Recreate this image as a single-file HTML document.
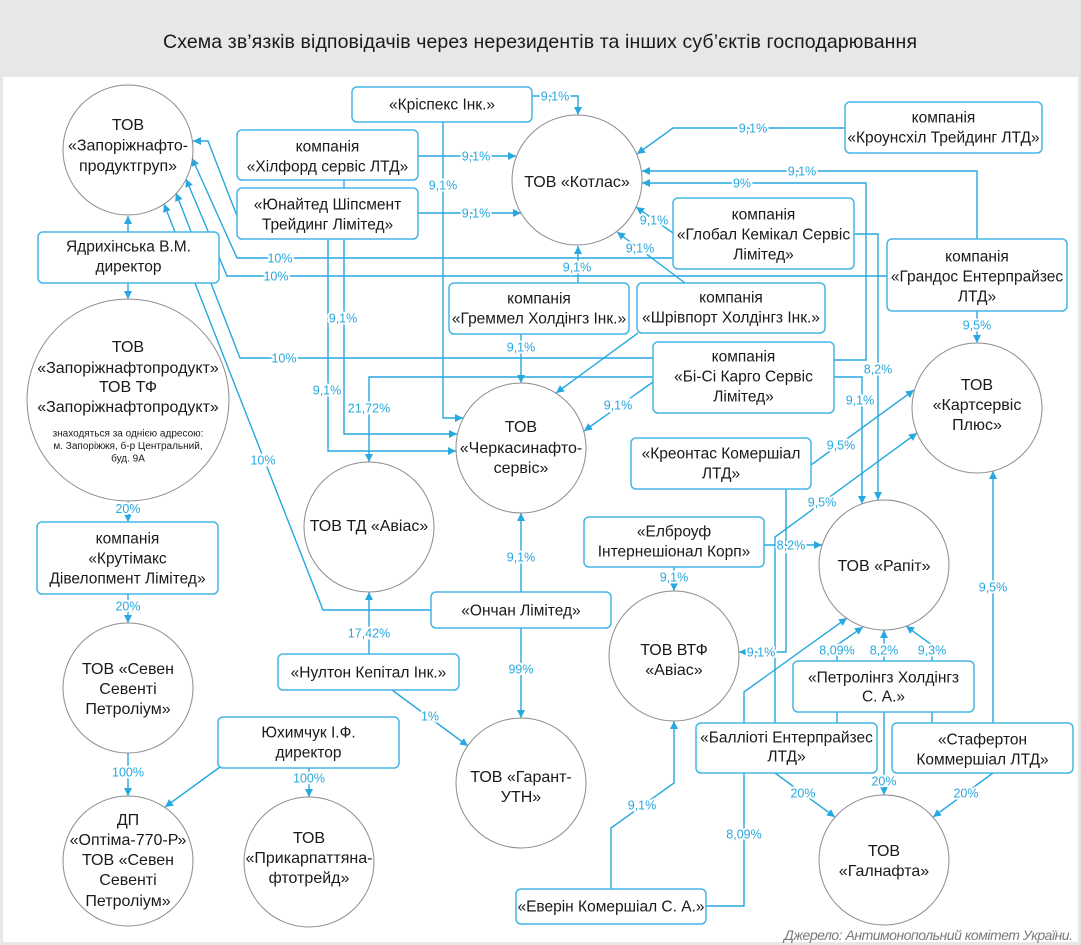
<!DOCTYPE html>
<html>
<head>
<meta charset="utf-8">
<style>
html,body{margin:0;padding:0;background:#e6e7e9;}
svg{display:block;}
.t{font-family:"Liberation Sans","DejaVu Sans",sans-serif;fill:#1a1a1a;text-anchor:middle;}
.c{font-size:16px;}
.b{font-size:15.5px;}
.s{font-size:10px;}
.l{font-family:"Liberation Sans","DejaVu Sans",sans-serif;font-size:12.5px;fill:#27a8de;text-anchor:middle;stroke:#fff;stroke-width:4px;paint-order:stroke;stroke-linejoin:round;}
.ln path{fill:none;stroke:#27a8de;stroke-width:1.4;marker-end:url(#a);}
.ln path.n{marker-end:none;}
.bx rect{fill:#fff;stroke:#45b5e5;stroke-width:1.5;}
.ci circle{fill:#fff;stroke:#8c8c8c;stroke-width:1;}
</style>
</head>
<body>
<svg width="1081" height="945" viewBox="0 0 1081 945" xmlns="http://www.w3.org/2000/svg">
<defs>
<marker id="a" viewBox="0 0 10 10" refX="10" refY="5" markerWidth="8" markerHeight="8" markerUnits="userSpaceOnUse" orient="auto">
<path d="M0,0 L10,5 L0,10 z" fill="#27a8de"/>
</marker>
</defs>
<rect x="0" y="0" width="1081" height="945" fill="#e6e7e9"/>
<rect x="3" y="77" width="1075" height="865" fill="#fff"/>
<text class="t" x="540" y="48" font-size="19.5" textLength="754" fill="#222">Схема зв’язків відповідачів через нерезидентів та інших суб’єктів господарювання</text>

<g class="ln">
<path d="M128,232 V216"/>
<path d="M128,283 V299"/>
<path d="M237,216 L208,141 L193,141"/>
<path d="M673,258 H237 L192,158"/>
<path d="M887,276 H227 L186,179"/>
<path d="M653,358 H240 L176,193"/>
<path d="M431,610 H323 L164,204"/>
<path d="M532,96 H578 V115"/>
<path d="M443,122 V418 H463"/>
<path d="M418,156 H516"/>
<path d="M418,213 H521"/>
<path d="M344,180 V434 H457"/>
<path d="M328,239 V451 H456"/>
<path d="M845,128 H673 L637,154"/>
<path d="M977,239 V171 H642"/>
<path d="M834,360 H866 V183 H642"/>
<path d="M673,233 L636,207"/>
<path d="M685,283 L617,232"/>
<path d="M578,283 V246"/>
<path d="M521,334 V383"/>
<path d="M638,333 L556,393"/>
<path d="M653,382 L584,431"/>
<path d="M653,377 H369 V462"/>
<path d="M521,592 V513"/>
<path d="M521,628 V718"/>
<path d="M369,654 V592"/>
<path d="M392,690 L468,746"/>
<path d="M977,311 V343"/>
<path d="M854,234 H878 V500"/>
<path d="M834,377 H862 V504"/>
<path d="M811,465 L914,390"/>
<path d="M775,723 V537 L917,433"/>
<path d="M786,489 V652 H739"/>
<path d="M764,545 H822"/>
<path d="M674,567 V591"/>
<path d="M993,723 V471"/>
<path d="M706,906 H744 V692 L847,618"/>
<path d="M837,723 V645 L863,627"/>
<path d="M884,661 V630"/>
<path d="M932,723 V645 L906,626"/>
<path d="M884,712 V795"/>
<path d="M775,773 L835,817"/>
<path d="M993,773 L933,817"/>
<path d="M611,889 V828 L674,783 V721"/>
<path d="M128,501 V522"/>
<path d="M128,594 V623"/>
<path d="M128,753 V796"/>
<path d="M220,767 L165,807"/>
<path d="M309,768 V797"/>
</g>

<g class="ci">
<circle cx="128" cy="150" r="65"/>
<circle cx="128" cy="400" r="101"/>
<circle cx="128" cy="688" r="65"/>
<circle cx="128" cy="861" r="65"/>
<circle cx="309" cy="862" r="65"/>
<circle cx="369" cy="527" r="65"/>
<circle cx="521" cy="448" r="65"/>
<circle cx="577" cy="180" r="65"/>
<circle cx="521" cy="783" r="65"/>
<circle cx="674" cy="656" r="65"/>
<circle cx="977" cy="408" r="65"/>
<circle cx="884" cy="565" r="65"/>
<circle cx="884" cy="860" r="65"/>
</g>

<g class="bx">
<rect x="352" y="87" width="180" height="35" rx="5"/>
<rect x="237" y="130" width="181" height="50" rx="5"/>
<rect x="237" y="188" width="181" height="51" rx="5"/>
<rect x="38" y="232" width="181" height="51" rx="5"/>
<rect x="845" y="102" width="197" height="51" rx="5"/>
<rect x="673" y="198" width="181" height="71" rx="5"/>
<rect x="887" y="239" width="180" height="72" rx="5"/>
<rect x="449" y="283" width="180" height="51" rx="5"/>
<rect x="637" y="283" width="188" height="50" rx="5"/>
<rect x="653" y="342" width="181" height="71" rx="5"/>
<rect x="631" y="438" width="180" height="51" rx="5"/>
<rect x="584" y="517" width="180" height="50" rx="5"/>
<rect x="431" y="592" width="180" height="36" rx="5"/>
<rect x="37" y="522" width="181" height="72" rx="5"/>
<rect x="278" y="654" width="181" height="36" rx="5"/>
<rect x="218" y="717" width="181" height="51" rx="5"/>
<rect x="793" y="661" width="181" height="51" rx="5"/>
<rect x="696" y="723" width="181" height="50" rx="5"/>
<rect x="892" y="723" width="181" height="50" rx="5"/>
<rect x="516" y="889" width="190" height="35" rx="5"/>
</g>

<!-- circle texts -->
<text class="t c" x="128" y="130">ТОВ</text>
<text class="t c" x="128" y="150.5">«Запоріжнафто-</text>
<text class="t c" x="128" y="171">продуктгруп»</text>

<text class="t c" x="128" y="352">ТОВ</text>
<text class="t c" x="128" y="373">«Запоріжнафтопродукт»</text>
<text class="t c" x="128" y="392">ТОВ ТФ</text>
<text class="t c" x="128" y="412">«Запоріжнафтопродукт»</text>
<text class="t s" x="128" y="436.5">знаходяться за однією адресою:</text>
<text class="t s" x="128" y="449">м. Запоріжжя, б-р Центральний,</text>
<text class="t s" x="128" y="461.5">буд. 9А</text>

<text class="t c" x="128" y="674">ТОВ «Севен</text>
<text class="t c" x="128" y="694">Севенті</text>
<text class="t c" x="128" y="714">Петроліум»</text>

<text class="t c" x="128" y="825">ДП</text>
<text class="t c" x="128" y="845">«Оптіма-770-Р»</text>
<text class="t c" x="128" y="865">ТОВ «Севен</text>
<text class="t c" x="128" y="885">Севенті</text>
<text class="t c" x="128" y="906">Петроліум»</text>

<text class="t c" x="309" y="843">ТОВ</text>
<text class="t c" x="309" y="863">«Прикарпаттяна-</text>
<text class="t c" x="309" y="883">фтотрейд»</text>

<text class="t c" x="369" y="531">ТОВ ТД «Авіас»</text>

<text class="t c" x="521" y="432">ТОВ</text>
<text class="t c" x="521" y="453">«Черкасинафто-</text>
<text class="t c" x="521" y="473">сервіс»</text>

<text class="t c" x="577" y="187">ТОВ «Котлас»</text>

<text class="t c" x="521" y="782">ТОВ «Гарант-</text>
<text class="t c" x="521" y="802">УТН»</text>

<text class="t c" x="674" y="655">ТОВ ВТФ</text>
<text class="t c" x="674" y="675">«Авіас»</text>

<text class="t c" x="977" y="390">ТОВ</text>
<text class="t c" x="977" y="410">«Картсервіс</text>
<text class="t c" x="977" y="430">Плюс»</text>

<text class="t c" x="884" y="571">ТОВ «Рапіт»</text>

<text class="t c" x="884" y="856">ТОВ</text>
<text class="t c" x="884" y="876">«Галнафта»</text>

<!-- box texts -->
<text class="t b" x="442" y="109.5">«Кріспекс Інк.»</text>
<text class="t b" x="327.5" y="151.5">компанія</text>
<text class="t b" x="327.5" y="171.5">«Хілфорд сервіс ЛТД»</text>
<text class="t b" x="327.5" y="209.5">«Юнайтед Шіпсмент</text>
<text class="t b" x="327.5" y="229.5">Трейдинг Лімітед»</text>
<text class="t b" x="128.5" y="251.5">Ядрихінська В.М.</text>
<text class="t b" x="128.5" y="271.5">директор</text>
<text class="t b" x="943.5" y="122.5">компанія</text>
<text class="t b" x="943.5" y="142.5">«Кроунсхіл Трейдинг ЛТД»</text>
<text class="t b" x="763.5" y="219.5">компанія</text>
<text class="t b" x="763.5" y="239.5">«Глобал Кемікал Сервіс</text>
<text class="t b" x="763.5" y="259.5">Лімітед»</text>
<text class="t b" x="977" y="261.5">компанія</text>
<text class="t b" x="977" y="281.5">«Грандос Ентерпрайзес</text>
<text class="t b" x="977" y="301.5">ЛТД»</text>
<text class="t b" x="539" y="303.5">компанія</text>
<text class="t b" x="539" y="323.5">«Греммел Холдінгз Інк.»</text>
<text class="t b" x="731" y="302.5">компанія</text>
<text class="t b" x="731" y="322.5">«Шрівпорт Холдінгз Інк.»</text>
<text class="t b" x="743.5" y="361.5">компанія</text>
<text class="t b" x="743.5" y="381.5">«Бі-Сі Карго Сервіс</text>
<text class="t b" x="743.5" y="401.5">Лімітед»</text>
<text class="t b" x="721" y="458.5">«Креонтас Комершіал</text>
<text class="t b" x="721" y="478.5">ЛТД»</text>
<text class="t b" x="674" y="536.5">«Елброуф</text>
<text class="t b" x="674" y="556.5">Інтернешіонал Корп»</text>
<text class="t b" x="521" y="615.5">«Ончан Лімітед»</text>
<text class="t b" x="127.5" y="543.5">компанія</text>
<text class="t b" x="127.5" y="563.5">«Крутімакс</text>
<text class="t b" x="127.5" y="583.5">Дівелопмент Лімітед»</text>
<text class="t b" x="368.5" y="677.5">«Нултон Кепітал Інк.»</text>
<text class="t b" x="308.5" y="737.5">Юхимчук І.Ф.</text>
<text class="t b" x="308.5" y="757.5">директор</text>
<text class="t b" x="883.5" y="682.5">«Петролінгз Холдінгз</text>
<text class="t b" x="883.5" y="701.5">С. А.»</text>
<text class="t b" x="786.5" y="742.5">«Балліоті Ентерпрайзес</text>
<text class="t b" x="786.5" y="761.5">ЛТД»</text>
<text class="t b" x="982.5" y="744.5">«Стафертон</text>
<text class="t b" x="982.5" y="764.5">Коммершіал ЛТД»</text>
<text class="t b" x="611" y="911.5">«Еверін Комершіал С. А.»</text>

<!-- labels -->
<text class="l" x="555" y="100.5">9,1%</text>
<text class="l" x="443" y="189.5">9,1%</text>
<text class="l" x="476" y="160.5">9,1%</text>
<text class="l" x="476" y="217.5">9,1%</text>
<text class="l" x="753" y="132.5">9,1%</text>
<text class="l" x="802" y="175.5">9,1%</text>
<text class="l" x="742" y="187.5">9%</text>
<text class="l" x="654" y="224.5">9,1%</text>
<text class="l" x="640" y="252.5">9,1%</text>
<text class="l" x="577" y="271.5">9,1%</text>
<text class="l" x="280" y="262.5">10%</text>
<text class="l" x="276" y="280.5">10%</text>
<text class="l" x="284" y="362.5">10%</text>
<text class="l" x="263" y="464.5">10%</text>
<text class="l" x="343" y="322.5">9,1%</text>
<text class="l" x="327" y="394.5">9,1%</text>
<text class="l" x="369" y="412.5">21,72%</text>
<text class="l" x="521" y="351.5">9,1%</text>
<text class="l" x="618" y="409.5">9,1%</text>
<text class="l" x="977" y="329.5">9,5%</text>
<text class="l" x="878" y="373.5">8,2%</text>
<text class="l" x="860" y="404.5">9,1%</text>
<text class="l" x="841" y="449.5">9,5%</text>
<text class="l" x="822" y="506.5">9,5%</text>
<text class="l" x="521" y="561.5">9,1%</text>
<text class="l" x="369" y="637.5">17,42%</text>
<text class="l" x="521" y="673.5">99%</text>
<text class="l" x="430" y="720.5">1%</text>
<text class="l" x="791" y="549.5">8,2%</text>
<text class="l" x="674" y="581.5">9,1%</text>
<text class="l" x="761" y="656.5">9,1%</text>
<text class="l" x="993" y="591.5">9,5%</text>
<text class="l" x="837" y="654.5">8,09%</text>
<text class="l" x="884" y="654.5">8,2%</text>
<text class="l" x="932" y="654.5">9,3%</text>
<text class="l" x="884" y="785.5">20%</text>
<text class="l" x="803" y="797.5">20%</text>
<text class="l" x="966" y="797.5">20%</text>
<text class="l" x="642" y="809.5">9,1%</text>
<text class="l" x="744" y="838.5">8,09%</text>
<text class="l" x="128" y="513">20%</text>
<text class="l" x="128" y="610.5">20%</text>
<text class="l" x="128" y="776.5">100%</text>
<text class="l" x="309" y="782.5">100%</text>

<text x="1073" y="940" font-family="Liberation Sans, sans-serif" font-size="14" font-style="italic" fill="#7a7a7a" text-anchor="end" textLength="289">Джерело: Антимонопольний комітет України.</text>
</svg>
</body>
</html>
